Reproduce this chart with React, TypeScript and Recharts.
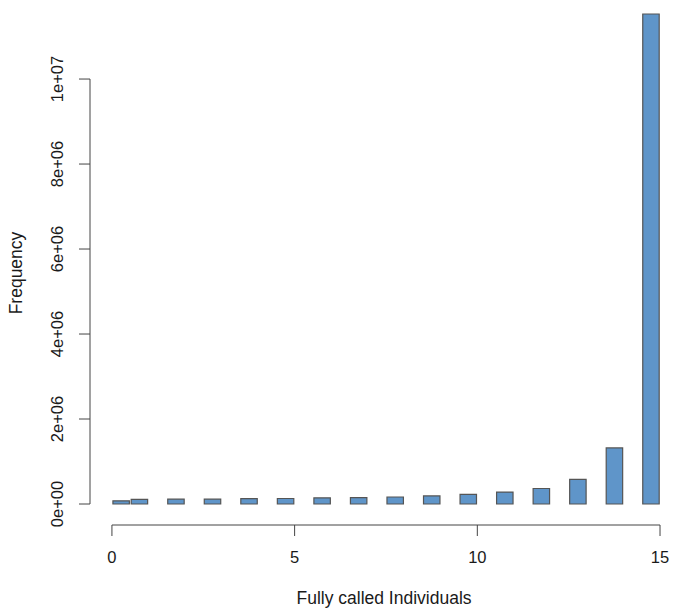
import React from "react";
import { ComposedChart, Bar, XAxis, YAxis, ReferenceLine } from "recharts";

// values 0..15 -> counts (R hist, breaks every 0.5)
const individuals = [0, 1, 2, 3, 4, 5, 6, 7, 8, 9, 10, 11, 12, 13, 14, 15];
const counts = [75000, 110000, 115000, 115000, 125000, 130000, 145000, 150000, 165000, 190000, 225000, 280000, 365000, 580000, 1320000, 11530000];
const xTicks = [0, 5, 10, 15];
const yTicks = [0, 2e6, 4e6, 6e6, 8e6, 1e7];
const yTickLabels = ["0e+00", "2e+06", "4e+06", "6e+06", "8e+06", "1e+07"];

// bin [k-0.5, k] for k >= 1, [0, 0.5] for 0
const data = individuals.map((k, i) => ({ mid: k === 0 ? 0.25 : k - 0.25, count: counts[i] }));

const FONT = "'Liberation Sans', Arial, Helvetica, sans-serif";
const AXIS = "#444";

function YTick(props: any) {
  const { y, payload } = props;
  const idx = yTicks.indexOf(payload.value);
  return (
    <text x={63} y={y} transform={`rotate(-90 63 ${y})`} textAnchor="middle" fontFamily={FONT} fontSize={16.5} fill="#1a1a1a">
      {yTickLabels[idx]}
    </text>
  );
}

function XTick(props: any) {
  const { x, payload } = props;
  return (
    <text x={x} y={563} textAnchor="middle" fontFamily={FONT} fontSize={16.5} fill="#1a1a1a">
      {payload.value}
    </text>
  );
}

export default function App() {
  return (
    <div style={{ width: 675, height: 608, background: "#fff" }}>
      <style>{`body{margin:0}`}</style>
      <ComposedChart width={675} height={608} data={data} margin={{ top: 0, right: 0, bottom: 0, left: 0 }}>
        <XAxis
          dataKey="mid"
          type="number"
          domain={[-0.6, 15.41]}
          allowDataOverflow
          ticks={xTicks}
          height={83}
          axisLine={false}
          tickLine={{ stroke: AXIS }}
          tickSize={11}
          tick={<XTick />}
          interval={0}
        />
        <YAxis
          type="number"
          domain={[-494000, 11860000]}
          allowDataOverflow
          ticks={yTicks}
          width={90}
          axisLine={false}
          tickLine={{ stroke: AXIS }}
          tickSize={11}
          tick={<YTick />}
          interval={0}
        />
        <ReferenceLine segment={[{ x: -0.6, y: 0 }, { x: -0.6, y: 1e7 }]} stroke={AXIS} ifOverflow="visible" />
        <ReferenceLine segment={[{ x: 0, y: -494000 }, { x: 15, y: -494000 }]} stroke={AXIS} ifOverflow="visible" />
        <Bar dataKey="count" fill="#5f95c9" stroke="#555" strokeWidth={1.2} barSize={18.3} isAnimationActive={false} />
        <text x={384} y={604} textAnchor="middle" fontFamily={FONT} fontSize={17.5} fill="#1a1a1a">
          Fully called Individuals
        </text>
        <text x={22} y={273} transform="rotate(-90 22 273)" textAnchor="middle" fontFamily={FONT} fontSize={17.5} fill="#1a1a1a">
          Frequency
        </text>
      </ComposedChart>
    </div>
  );
}
